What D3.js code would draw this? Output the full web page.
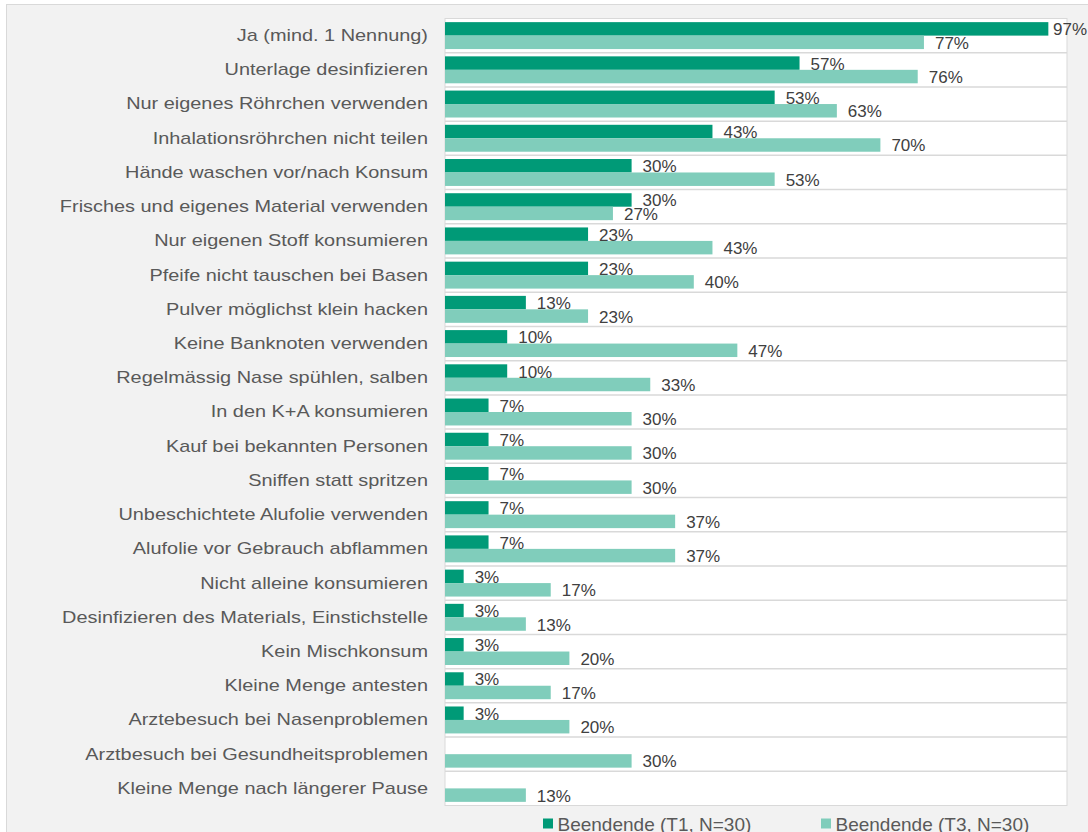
<!DOCTYPE html>
<html>
<head>
<meta charset="utf-8">
<script src="https://cdn.jsdelivr.net/npm/d3@7"></script>
<style>
  body { margin: 0; background: #ffffff; font-family: "Liberation Sans", Arial, sans-serif; }
</style>
</head>
<body>
<div class="main"></div>
<script>
const categories = ["Ja (mind. 1 Nennung)", "Unterlage desinfizieren", "Nur eigenes Röhrchen verwenden",
    "Inhalationsröhrchen nicht teilen", "Hände waschen vor/nach Konsum", "Frisches und eigenes Material verwenden",
    "Nur eigenen Stoff konsumieren", "Pfeife nicht tauschen bei Basen", "Pulver möglichst klein hacken",
    "Keine Banknoten verwenden", "Regelmässig Nase spühlen, salben", "In den K+A konsumieren",
    "Kauf bei bekannten Personen", "Sniffen statt spritzen", "Unbeschichtete Alufolie verwenden",
    "Alufolie vor Gebrauch abflammen", "Nicht alleine konsumieren", "Desinfizieren des Materials, Einstichstelle",
    "Kein Mischkonsum", "Kleine Menge antesten", "Arztebesuch bei Nasenproblemen",
    "Arztbesuch bei Gesundheitsproblemen", "Kleine Menge nach längerer Pause"];

const seriesNames = ["Beendende (T1, N=30)", "Beendende (T3, N=30)"];
const valuesT1 = [97, 57, 53, 43, 30, 30, 23, 23, 13, 10, 10, 7, 7, 7, 7, 7, 3, 3, 3, 3, 3, null, null];
const valuesT3 = [77, 76, 63, 70, 53, 27, 43, 40, 23, 47, 33, 30, 30, 30, 37, 37, 17, 13, 20, 17, 20, 30, 13];

const width = 1088, height = 832;
const plot = { left: 445, top: 18.5, right: 1067, bottom: 805.5 };
const colors = ["#009a77", "#80cdbb"];

const svg = d3.select(".main").append("svg")
    .attr("width", width)
    .attr("height", height);

// chart frame
svg.append("rect")
    .attr("x", 6.5).attr("y", 4.5)
    .attr("width", width + 20).attr("height", height + 20)
    .attr("fill", "#f2f2f2")
    .attr("stroke", "#d9d9d9");

// plot area
svg.append("rect")
    .attr("x", plot.left).attr("y", plot.top)
    .attr("width", plot.right - plot.left).attr("height", plot.bottom - plot.top)
    .attr("fill", "#ffffff")
    .attr("stroke", "#d9d9d9");

const x = d3.scaleLinear()
    .domain([0, 100])
    .range([plot.left, plot.right]);

const y = d3.scaleBand()
    .domain(categories)
    .range([plot.top, plot.bottom]);

const ySub = d3.scaleBand()
    .domain([0, 1])
    .range([0, y.bandwidth()])
    .paddingOuter(0.27)
    .paddingInner(0);

// gridlines between categories
svg.append("g")
    .selectAll("line")
    .data(categories.slice(1))
    .join("line")
    .attr("x1", plot.left).attr("x2", plot.right)
    .attr("y1", d => y(d)).attr("y2", d => y(d))
    .attr("stroke", "#d9d9d9")
    .attr("stroke-width", 1.5);

// category labels (the original text is drawn a bit wider)
const yAxis = svg.append("g")
    .attr("transform", "translate(" + (plot.left - 17) + ",0)")
    .call(d3.axisLeft(y).tickSize(0).tickPadding(0));
yAxis.select(".domain").remove();
yAxis.selectAll("text")
    .attr("fill", "#595959")
    .attr("font-size", "17px")
    .attr("font-family", "Liberation Sans, Arial, sans-serif")
    .attr("transform", "scale(1.17,1)");

const rows = [];
categories.forEach((c, i) => {
    rows.push({ cat: c, s: 0, v: valuesT1[i] });
    rows.push({ cat: c, s: 1, v: valuesT3[i] });
});
const data = rows.filter(d => d.v != null);

const g = svg.append("g");

g.selectAll("rect")
    .data(data)
    .join("rect")
    .attr("x", x(0))
    .attr("y", d => y(d.cat) + ySub(d.s))
    .attr("width", d => x(d.v) - x(0))
    .attr("height", ySub.bandwidth())
    .attr("fill", d => colors[d.s]);

g.selectAll("text")
    .data(data)
    .join("text")
    .text(d => d.v + "%")
    .attr("x", d => x(d.v) + 11)
    .attr("y", d => y(d.cat) + ySub(d.s) + ySub.bandwidth() / 2)
    .attr("dy", "0.38em")
    .attr("font-size", "17px")
    .attr("fill", "#404040")
    .each(function () {
        const w = this.getComputedTextLength();
        const xx = +d3.select(this).attr("x");
        if (xx + w > width - 1) d3.select(this).attr("x", width - 1 - w);
    });

// legend
const legendX = [543, 821];
const legend = svg.append("g");
seriesNames.forEach((name, i) => {
    legend.append("rect")
        .attr("x", legendX[i]).attr("y", 818.5)
        .attr("width", 10).attr("height", 10)
        .attr("fill", colors[i]);
    legend.append("text")
        .attr("x", legendX[i] + 14.5).attr("y", 831)
        .attr("font-size", "19px")
        .attr("fill", "#595959")
        .text(name);
});
</script>
</body>
</html>
